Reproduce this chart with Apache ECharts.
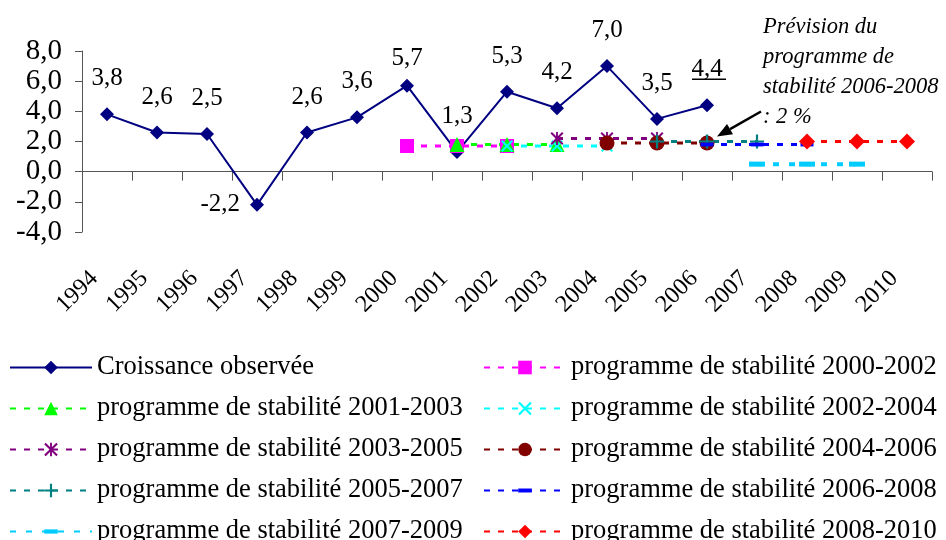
<!DOCTYPE html>
<html>
<head>
<meta charset="utf-8">
<script src="https://cdn.jsdelivr.net/npm/echarts@6/dist/echarts.min.js"></script>
<style>
html, body { margin: 0; padding: 0; background: #fff; }
#main { width: 946px; height: 540px; }
</style>
</head>
<body>
<div id="main"></div>
<script>
// categories
const years = ['1994','1995','1996','1997','1998','1999','2000','2001','2002',
               '2003','2004','2005','2006','2007','2008','2009','2010'];
// croissance observée (1994-2006)
const observed = [3.8, 2.6, 2.5, -2.2, 2.6, 3.6, 5.7, 1.3, 5.3, 4.2, 7.0, 3.5, 4.4];
// prévisions des programmes de stabilité (3 années chacun, à partir de l'année de début)
const prog2000 = [1.7, 1.7, 1.7];
const prog2001 = [1.8, 1.8, 1.8];
const prog2002 = [1.7, 1.7, 1.7];
const prog2003 = [2.2, 2.2, 2.2];
const prog2004 = [1.9, 1.9, 1.9];
const prog2005 = [2.0, 2.0, 2.0];
const prog2006 = [1.8, 1.8, 1.8];
const prog2007 = [0.5, 0.5, 0.5];
const prog2008 = [2.0, 2.0, 2.0];
const yTicks = [-4, -2, 0, 2, 4, 6, 8];

const FONT = '"Liberation Serif", "Times New Roman", serif';
const fmt = v => Number(v).toFixed(1).replace('.', ',');

// remet une prévision sur l'axe des années
function pad(startYear, values) {
  const out = years.map(() => null);
  const i0 = years.indexOf(String(startYear));
  values.forEach((v, k) => { out[i0 + k] = v; });
  return out;
}

// symboles « à la Excel » (les M/L vides fixent une boîte carrée pour garder la forme dans la légende)
const crossPath = 'path://M0,1.2L1.2,0L10,8.8L8.8,10Z M8.8,0L10,1.2L1.2,10L0,8.8Z';
const starPath = 'path://M0,1.1L1.1,0L10,8.9L8.9,10Z M8.9,0L10,1.1L1.1,10L0,8.9Z M4.3,0h1.4v10h-1.4z';
const plusPath = 'path://M4.2,0h1.6v10h-1.6z M0,4.2h10v1.6h-10z';
const dashPath = 'path://M0,0L0,0 M13,13L13,13 M0,4.6h13v3.8h-13z';
const barPath = 'path://M0,0L0,0 M16,16L16,16 M0,5.5h16v5h-16z';

function prog(name, start, values, color, symbol, size, lw, dash) {
  return {
    name: name,
    type: 'line',
    data: pad(start, values),
    symbol: symbol,
    symbolSize: size,
    showAllSymbol: true,
    itemStyle: { color: color },
    lineStyle: { color: color, width: lw || 3, type: dash || [6, 8] },
    emphasis: { disabled: true }
  };
}

const series = [
  {
    name: 'Croissance observée',
    type: 'line',
    data: pad(1994, observed).map((v, i) => v === null ? null : {
      value: v,
      label: i === 3 ? { position: 'left', distance: 10 } : undefined
    }),
    symbol: 'diamond',
    symbolSize: 14,
    itemStyle: { color: '#000080' },
    lineStyle: { color: '#000080', width: 2 },
    label: {
      show: true,
      position: 'top',
      distance: 16,
      formatter: p => fmt(p.value),
      fontFamily: FONT,
      fontSize: 25,
      color: '#000'
    },
    // 5,7 est un peu plus près de son point
    labelLayout: params => params.dataIndex === 6 ? { dy: 8 } : {},
    emphasis: { disabled: true }
  },
  prog('programme de stabilité 2000-2002', 2000, prog2000, '#FF00FF', 'rect', 14),
  prog('programme de stabilité 2001-2003', 2001, prog2001, '#00FF00', 'triangle', 15),
  prog('programme de stabilité 2002-2004', 2002, prog2002, '#00FFFF', crossPath, 12),
  prog('programme de stabilité 2003-2005', 2003, prog2003, '#800080', starPath, 13),
  prog('programme de stabilité 2004-2006', 2004, prog2004, '#800000', 'circle', 15),
  prog('programme de stabilité 2005-2007', 2005, prog2005, '#008080', plusPath, 14),
  prog('programme de stabilité 2006-2008', 2006, prog2006, '#0000FF', dashPath, 13),
  prog('programme de stabilité 2007-2009', 2007, prog2007, '#00CCFF', barPath, 16, 4, [6, 10]),
  prog('programme de stabilité 2008-2010', 2008, prog2008, '#FF0000', 'diamond', 16)
];

const names = series.map(s => s.name);
const leftNames = names.filter((n, i) => i % 2 === 0);
const rightNames = names.filter((n, i) => i % 2 === 1);

const legendBase = {
  orient: 'vertical',
  top: 354,
  height: 200,
  padding: 0,
  itemWidth: 82,
  itemHeight: 17,
  itemGap: 14,
  selectedMode: false,
  textStyle: { fontFamily: FONT, fontSize: 26.5, lineHeight: 26, color: '#000' }
};

const chart = echarts.init(document.getElementById('main'), null, { renderer: 'canvas' });
chart.setOption({
  animation: false,
  backgroundColor: '#fff',
  textStyle: { fontFamily: FONT },
  grid: { left: 82, right: 14, top: 51, bottom: 308, containLabel: false },
  legend: [
    Object.assign({ data: leftNames, left: 9 }, legendBase),
    Object.assign({ data: rightNames, left: 483 }, legendBase)
  ],
  xAxis: {
    type: 'category',
    data: years,
    boundaryGap: true,
    axisLine: { onZero: true, lineStyle: { color: '#555', width: 1 } },
    axisTick: { show: true, length: 9, lineStyle: { color: '#555' } },
    axisLabel: {
      rotate: 45,
      margin: 30,
      padding: [0, 18, 0, 0],
      interval: 0,
      fontFamily: FONT,
      fontSize: 24,
      color: '#000'
    },
    splitLine: { show: false }
  },
  yAxis: {
    type: 'value',
    min: yTicks[0],
    max: yTicks[yTicks.length - 1],
    interval: 2,
    axisLine: { show: true, lineStyle: { color: '#555', width: 1 } },
    axisTick: { show: true, length: 7, lineStyle: { color: '#555' } },
    axisLabel: {
      margin: 20,
      formatter: v => fmt(v),
      fontFamily: FONT,
      fontSize: 29,
      color: '#000'
    },
    splitLine: { show: false }
  },
  series: series,
  graphic: [
    {
      type: 'text',
      id: 'note',
      left: 763,
      top: 12,
      style: {
        text: 'Prévision du\nprogramme de\nstabilité 2006-2008\n: 2 %',
        fontFamily: FONT,
        fontStyle: 'italic',
        fontSize: 22.5,
        lineHeight: 30,
        fill: '#000'
      }
    }
  ]
});

// flèche vers la prévision 2006 et soulignement du 4,4
const p = chart.convertToPixel({ xAxisIndex: 0, yAxisIndex: 0 }, ['2006', prog2006[0]]);
const tip = [p[0] + 10, p[1] - 8];
const tail = [p[0] + 54, p[1] - 33];
const dx = tip[0] - tail[0], dy = tip[1] - tail[1];
const len = Math.sqrt(dx * dx + dy * dy);
const ux = dx / len, uy = dy / len;
const base = [tip[0] - 15 * ux, tip[1] - 15 * uy];
const q = chart.convertToPixel({ xAxisIndex: 0, yAxisIndex: 0 }, ['2006', observed[12]]);

chart.setOption({
  graphic: [
    {
      type: 'line',
      id: 'arrowLine',
      shape: { x1: tail[0], y1: tail[1], x2: base[0], y2: base[1] },
      style: { stroke: '#000', lineWidth: 2.5 },
      z: 100
    },
    {
      type: 'polygon',
      id: 'arrowHead',
      shape: {
        points: [
          tip,
          [base[0] - 6 * uy, base[1] + 6 * ux],
          [base[0] + 6 * uy, base[1] - 6 * ux]
        ]
      },
      style: { fill: '#000' },
      z: 100
    },
    {
      type: 'line',
      id: 'underline',
      shape: { x1: q[0] - 15, y1: q[1] - 26, x2: q[0] + 19, y2: q[1] - 26 },
      style: { stroke: '#000', lineWidth: 1.5 },
      z: 100
    }
  ]
});
</script>
</body>
</html>
